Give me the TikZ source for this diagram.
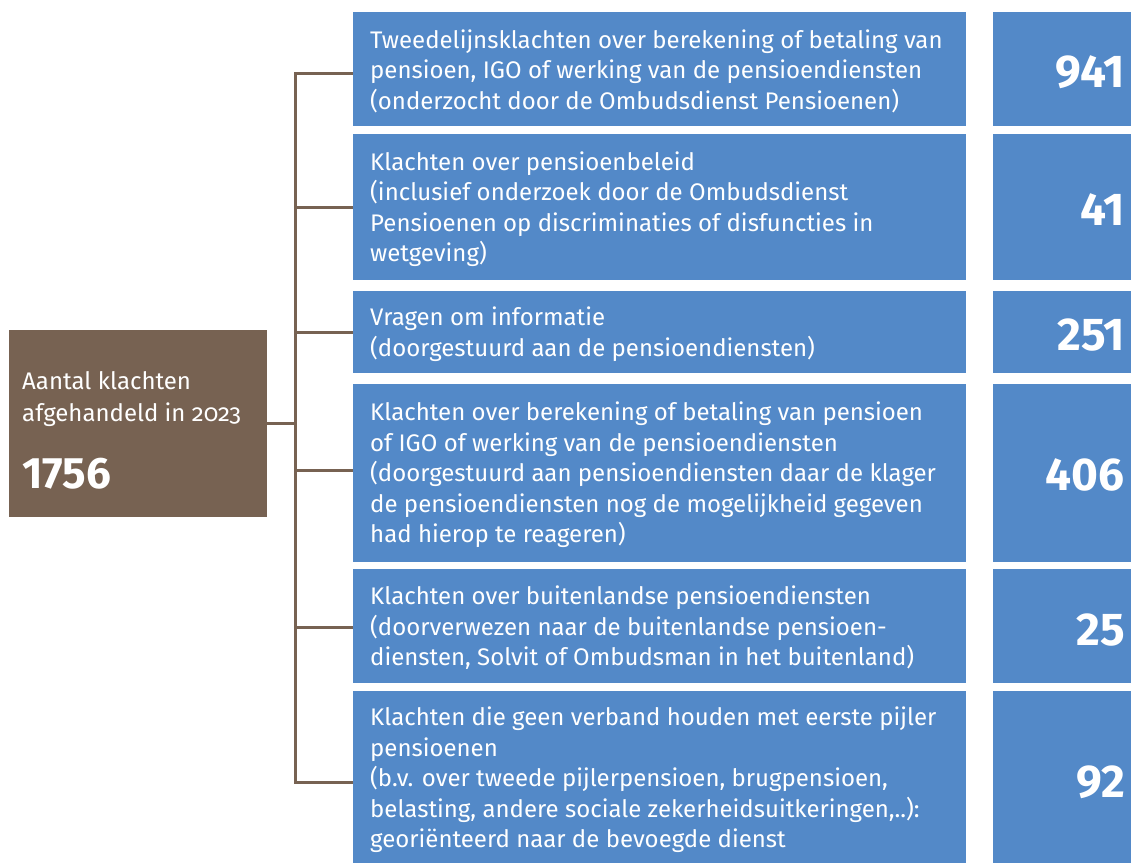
\documentclass[tikz,border=0pt]{standalone}
\usepackage{fontspec}
\setmainfont{Fira Sans}
\definecolor{boxblue}{RGB}{83,137,200}
\definecolor{boxbrown}{RGB}{119,98,82}
\begin{document}
\begin{tikzpicture}[x=1pt,y=-1pt,
  bluebox/.style={fill=boxblue,draw=none,anchor=north west,inner sep=0pt},
  txt/.style={text=white,anchor=west,align=left,inner sep=0pt,font=\fontsize{24}{30.5}\selectfont},
  num/.style={text=white,anchor=east,inner sep=0pt,font=\fontsize{46}{46}\selectfont\bfseries},
  conn/.style={draw=boxbrown,line width=3pt}]
\useasboundingbox (0,0) rectangle (1131,863);
% root
\node[fill=boxbrown,anchor=north west,inner sep=0pt,minimum width=258pt,minimum height=187pt] (root) at (9,330) {};
\node[text=white,anchor=west,align=left,inner sep=0pt,font=\fontsize{24}{32}\selectfont] (roottxt) at (22,399) {Aantal klachten\\afgehandeld in {\addfontfeature{Numbers=OldStyle}2023}};
\node[text=white,anchor=west,inner sep=0pt,font=\fontsize{44}{44}\selectfont\bfseries] (rootnum) at (22,474) {1756};
% rows
\foreach \i/\t/\b in {1/12/126,2/134/280,3/291/373,4/384/562,5/569/683,6/691/863}{
  \node[bluebox,minimum width=613pt,minimum height={\b-\t}] (t\i) at (353,\t) {};
  \node[bluebox,minimum width=138pt,minimum height={\b-\t}] (n\i) at (993,\t) {};
}
\node[txt] (x1) at (370,71) {Tweedelijnsklachten over berekening of betaling van\\pensioen, IGO of werking van de pensioendiensten\\(onderzocht door de Ombudsdienst Pensioenen)};
\node[txt] (x2) at (370,209) {Klachten over pensioenbeleid\\(inclusief onderzoek door de Ombudsdienst\\Pensioenen op discriminaties of disfuncties in\\wetgeving)};
\node[txt] (x3) at (370,334) {Vragen om informatie\\(doorgestuurd aan de pensioendiensten)};
\node[txt] (x4) at (370,475) {Klachten over berekening of betaling van pensioen\\of IGO of werking van de pensioendiensten\\(doorgestuurd aan pensioendiensten daar de klager\\de pensioendiensten nog de mogelijkheid gegeven\\had hierop te reageren)};
\node[txt] (x5) at (370,628) {Klachten over buitenlandse pensioendiensten\\(doorverwezen naar de buitenlandse pensioen-\\diensten, Solvit of Ombudsman in het buitenland)};
\node[txt] (x6) at (370,780) {Klachten die geen verband houden met eerste pijler\\pensioenen\\(b.v. over tweede pijlerpensioen, brugpensioen,\\belasting, andere sociale zekerheidsuitkeringen,..):\\geori\"enteerd naar de bevoegde dienst};
\node[num] (v1) at (1125,72) {941};
\node[num] (v2) at (1125,210) {41};
\node[num] (v3) at (1125,335) {251};
\node[num] (v4) at (1125,475) {406};
\node[num] (v5) at (1125,630) {25};
\node[num] (v6) at (1125,782) {92};
% connectors
\foreach \i/\y in {1/73,2/207,3/332,4/470,5/627,6/782}{
  \coordinate (b\i) at (295,\y);
  \draw[conn] (b\i) -- (b\i -| t\i.west);
}
\draw[conn,line cap=rect] (b1) -- (b6);
\draw[conn] (root.east) -- (root.east -| b1);
\end{tikzpicture}
\end{document}
